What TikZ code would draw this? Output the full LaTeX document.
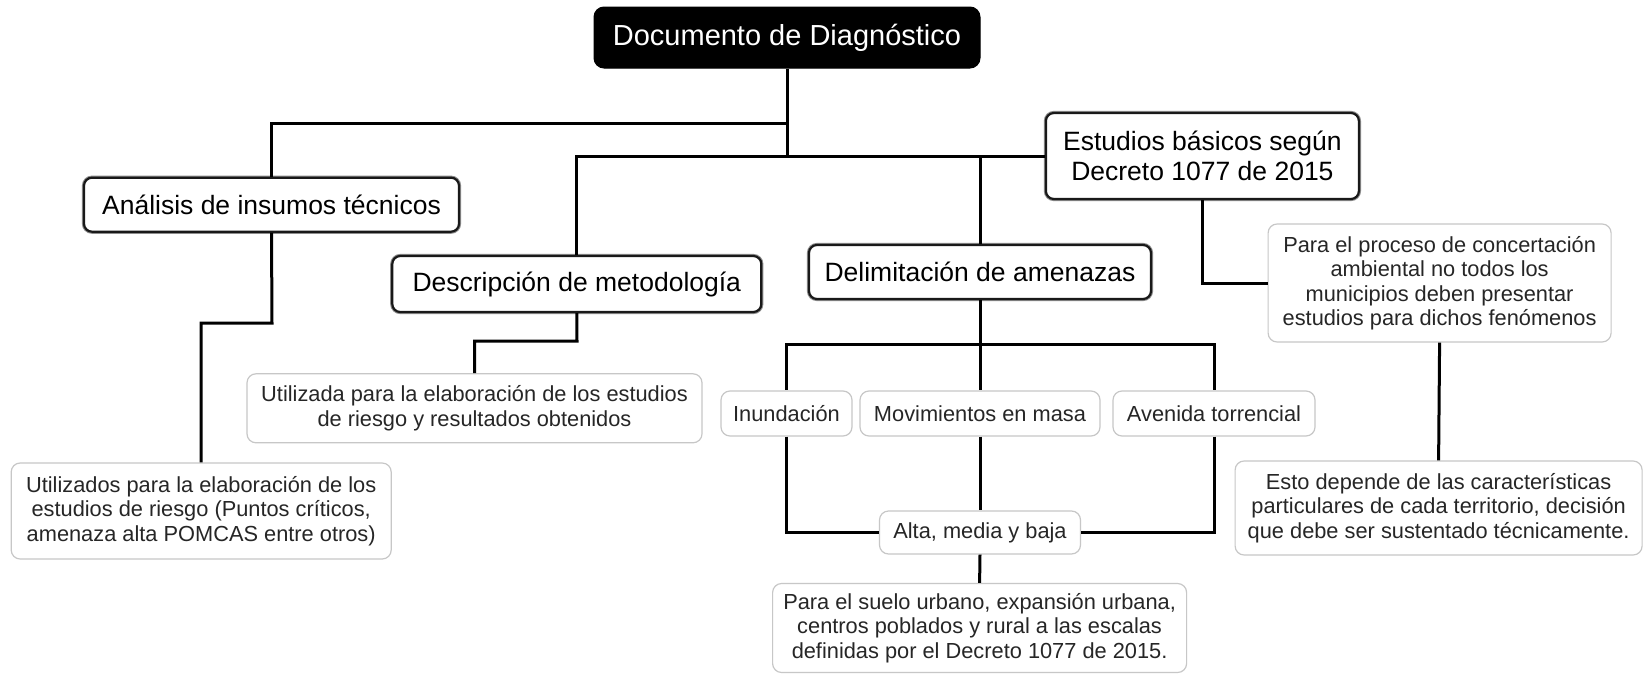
\documentclass[tikz,border=0pt]{standalone}
\usepackage{fontspec}
\setmainfont{Liberation Sans}
\begin{document}
\begin{tikzpicture}[x=1pt,y=-1pt,
  rootbox/.style={draw=black,fill=black,text=white,rounded corners=10pt,line width=1pt,
     inner sep=0pt,font=\fontsize{29}{32}\selectfont},
  mainbox/.style={draw=black!90,fill=white,rounded corners=8pt,line width=2.2pt,
     preaction={draw=black!45,line width=4.2pt},
     inner sep=0pt,align=center,font=\fontsize{26.5}{30}\selectfont},
  leafbox/.style={draw=black!22,fill=white,rounded corners=9pt,line width=1.2pt,
     inner sep=0pt,align=center,text=black!85,font=\fontsize{21.8}{24.5}\selectfont},
  conn/.style={draw=black,line width=3pt}]
\useasboundingbox[fill=white] (0,0) rectangle (1647,675);

\coordinate (j1) at (787,123);
\coordinate (j2) at (787,156);
\coordinate (k1) at (272,323);
\coordinate (k2) at (577,341);
\coordinate (k3) at (980,344);

\node[rootbox,minimum width=386pt,minimum height=61pt] (root) at (787,37.5) {Documento de Diagnóstico};
\node[mainbox,minimum width=375pt,minimum height=54pt] (ana) at (271.5,204.7) {Análisis de insumos técnicos};
\node[mainbox,minimum width=369pt,minimum height=56pt] (desc) at (576.8,284) {Descripción de metodología};
\node[mainbox,minimum width=342pt,minimum height=54pt] (delim) at (980,272) {Delimitación de amenazas};
\node[mainbox,minimum width=313pt,minimum height=86pt] (est) at (1202.4,156) {Estudios básicos según\\Decreto 1077 de 2015};

\node[leafbox,minimum width=343pt,minimum height=118pt] (conc) at (1439.6,283) {Para el proceso de concertación\\ambiental no todos los\\municipios deben presentar\\estudios para dichos fenómenos};
\node[leafbox,minimum width=380pt,minimum height=96pt] (utilos) at (201.2,511) {Utilizados para la elaboración de los\\estudios de riesgo (Puntos críticos,\\amenaza alta POMCAS entre otros)};
\node[leafbox,minimum width=455pt,minimum height=69pt] (utilada) at (474.5,408.3) {Utilizada para la elaboración de los estudios\\de riesgo y resultados obtenidos};
\node[leafbox,minimum width=131pt,minimum height=45pt] (inund) at (786.5,413.5) {Inundación};
\node[leafbox,minimum width=240pt,minimum height=45pt] (mov) at (980,413.5) {Movimientos en masa};
\node[leafbox,minimum width=202pt,minimum height=45pt] (aven) at (1214,413.5) {Avenida torrencial};
\node[leafbox,minimum width=201pt,minimum height=43pt] (alta) at (980,532.5) {Alta, media y baja};
\node[leafbox,minimum width=414pt,minimum height=89pt] (suelo) at (979.6,628) {Para el suelo urbano, expansión urbana,\\centros poblados y rural a las escalas\\definidas por el Decreto 1077 de 2015.};
\node[leafbox,minimum width=407pt,minimum height=94pt] (esto) at (1438.6,508) {Esto depende de las características\\particulares de cada territorio, decisión\\que debe ser sustentado técnicamente.};

\path[conn] (root.south) -- (j1) -| (ana.north);
\path[conn] (j1) -- (j2) -| (desc.north);
\path[conn] (j2) -- (est.west);
\path[conn] (j2 -| delim.north) -- (delim.north);
\path[conn] (ana.south) -- (k1) -| (utilos.north);
\path[conn] (desc.south) -- (k2) -| (utilada.north);
\path[conn] (delim.south) -- (k3) -| (inund.north);
\path[conn] (k3) -| (aven.north);
\path[conn] (k3) -- (mov.north);
\path[conn] (inund.south) |- (alta.west);
\path[conn] (aven.south) |- (alta.east);
\path[conn] (mov.south) -- (alta.north);
\path[conn] (alta.south) -- (suelo.north);
\path[conn] (est.south) |- (conc.west);
\path[conn] (conc.south) -- (esto.north);
\end{tikzpicture}
\end{document}
